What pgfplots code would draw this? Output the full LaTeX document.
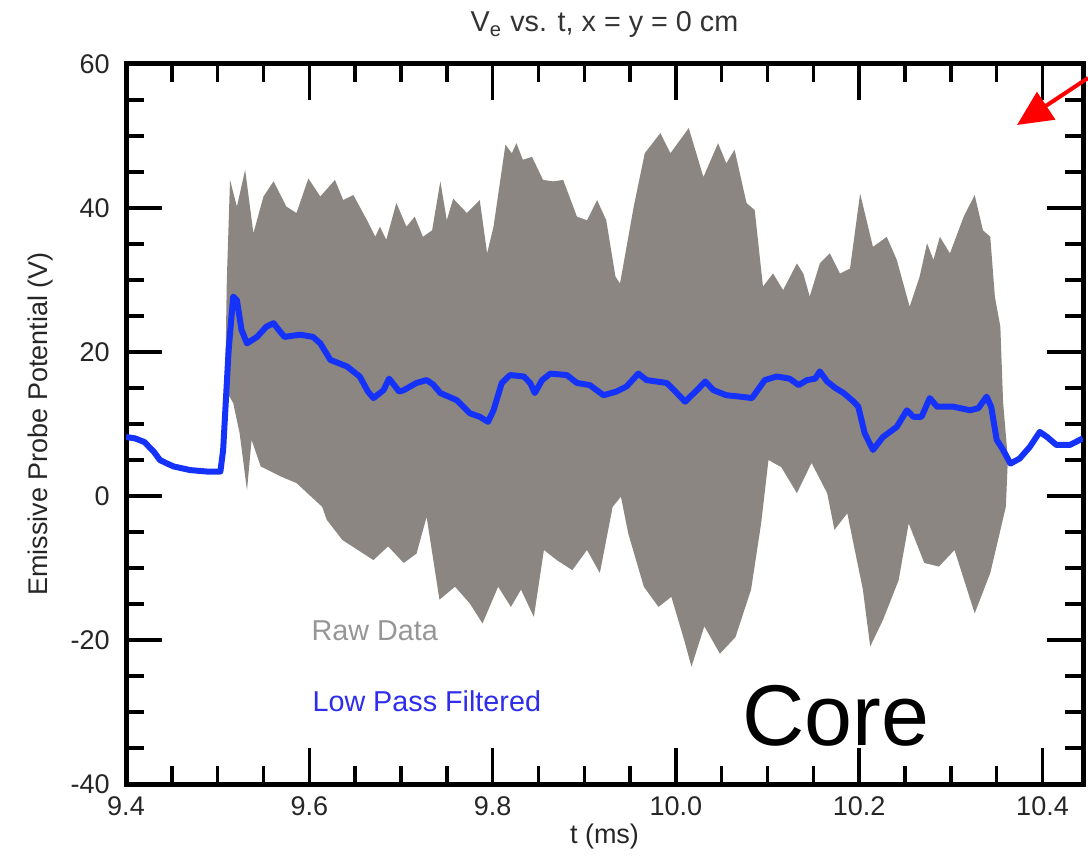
\documentclass[border=0pt]{standalone}
\usepackage{pgfplots}
\pgfplotsset{compat=1.18}
\usepackage{fontspec}
\setmainfont{Liberation Sans}
\usetikzlibrary{arrows.meta}
\definecolor{rawgray}{RGB}{139,134,129}
\definecolor{lpblue}{RGB}{20,50,250}
\definecolor{rawtext}{RGB}{150,150,150}
\definecolor{lptext}{RGB}{45,45,235}
\begin{document}
\begin{tikzpicture}
\begin{axis}[name=ax, scale only axis, width=382.8pt, height=288pt,
  xmin=9.4, xmax=10.4442, ymin=-40, ymax=60,
  xtick={9.4,9.6,9.8,10.0,10.2,10.4}, ytick={-40,-20,0,20,40,60},
  minor x tick num=3, minor y tick num=3,
  tick align=inside, tick pos=both,
  major tick length=14.4pt, minor tick length=7.2pt,
  tick style={black, line width=1.4pt},
  axis line style={line width=2pt},
  /pgf/number format/assume math mode=true,
  tick label style={font=\fontsize{10.8}{12}\selectfont, text=black!85},
  xticklabel style={/pgf/number format/fixed, /pgf/number format/fixed zerofill, /pgf/number format/precision=1, yshift=-1.5pt},
  yticklabel style={xshift=-3pt},
]
% Raw data envelope (upper edge left to right, lower edge right to left)
\addplot[fill=rawgray, draw=none] coordinates {
(9.508,14.0) (9.510,30.0) (9.5135,43.9) (9.521,40.2) (9.530,45.3) (9.539,36.5)
(9.550,41.6) (9.561,43.7) (9.575,40.2) (9.586,39.3) (9.599,44.1) (9.612,41.6)
(9.628,43.9) (9.637,41.1) (9.648,41.8) (9.663,38.3) (9.672,36.0) (9.677,37.4)
(9.684,35.6) (9.695,40.7) (9.706,37.4) (9.715,38.8) (9.724,36.0) (9.734,36.9)
(9.743,43.7) (9.750,38.3) (9.757,41.3) (9.772,39.3) (9.786,41.1) (9.794,33.7)
(9.801,37.4) (9.814,48.8) (9.821,47.6) (9.826,49.0) (9.833,46.7) (9.843,47.1)
(9.855,43.9) (9.866,43.7) (9.877,43.9) (9.892,38.8) (9.903,38.3) (9.914,41.1)
(9.924,38.3) (9.934,30.5) (9.939,29.5) (9.954,40.2) (9.966,47.6) (9.983,50.4)
(9.994,47.6) (10.014,51.1) (10.030,44.3) (10.046,49.0) (10.055,46.2) (10.064,48.1)
(10.077,40.7) (10.086,39.7) (10.095,29.1) (10.106,30.9) (10.117,28.6) (10.132,32.3)
(10.139,30.9) (10.146,27.7) (10.157,32.3) (10.168,33.7) (10.179,30.9) (10.190,31.6)
(10.201,42.0) (10.215,34.6) (10.230,36.0) (10.241,32.8) (10.255,26.3) (10.266,30.5)
(10.274,35.1) (10.281,32.8) (10.288,36.0) (10.299,33.7) (10.314,38.8) (10.326,41.8)
(10.335,36.9) (10.343,36.0) (10.348,27.7) (10.354,23.5) (10.357,13.0) (10.362,5.5)
(10.362,4.5) (10.360,-1.5) (10.343,-10.7) (10.326,-16.3) (10.304,-7.5) (10.287,-9.8)
(10.271,-9.3) (10.254,-3.8) (10.243,-11.7) (10.226,-17.2) (10.212,-20.9) (10.204,-13.0)
(10.187,-2.4) (10.173,-4.7) (10.165,0.4) (10.148,4.6) (10.132,0.4) (10.115,4.0)
(10.101,5.0) (10.093,-3.8) (10.082,-13.0) (10.065,-19.6) (10.048,-21.9) (10.031,-18.1)
(10.017,-23.7) (10.009,-20.0) (9.995,-14.0) (9.981,-15.4) (9.965,-12.6) (9.948,-5.2)
(9.940,-0.1) (9.931,-1.5) (9.917,-10.7) (9.903,-7.5) (9.887,-10.3) (9.870,-8.9)
(9.856,-7.5) (9.845,-16.8) (9.831,-13.0) (9.820,-15.4) (9.806,-12.6) (9.789,-17.7)
(9.775,-14.9) (9.759,-12.6) (9.742,-14.4) (9.728,-2.9) (9.717,-8.0) (9.703,-9.3)
(9.686,-7.0) (9.670,-8.9) (9.653,-7.5) (9.636,-6.1) (9.619,-3.3) (9.614,-1.5)
(9.586,1.8) (9.569,2.7) (9.547,4.1) (9.537,7.8) (9.532,0.8) (9.524,8.7)
(9.517,12.9) (9.509,14.7)
};
% Low pass filtered
\addplot[lpblue, line width=2.4pt, line join=round] coordinates {
(9.400,8.2) (9.410,8.0) (9.420,7.5) (9.430,6.2) (9.437,5.0) (9.445,4.5) (9.452,4.1)
(9.470,3.6) (9.488,3.4) (9.503,3.4) (9.506,6.4) (9.512,20.3) (9.517,27.7) (9.521,27.2)
(9.526,23.1) (9.532,21.2) (9.543,22.1) (9.553,23.5) (9.561,24.0) (9.567,23.0) (9.573,22.1)
(9.590,22.4) (9.604,22.1) (9.612,21.2) (9.623,18.9) (9.641,18.0) (9.655,16.6) (9.664,14.5)
(9.670,13.6) (9.681,14.7) (9.687,16.3) (9.692,15.5) (9.698,14.5) (9.703,14.7) (9.717,15.7)
(9.728,16.1) (9.735,15.5) (9.743,14.3) (9.761,13.3) (9.775,11.5) (9.786,11.0) (9.795,10.3)
(9.801,11.9) (9.810,15.7) (9.819,16.8) (9.834,16.6) (9.841,15.7) (9.846,14.3) (9.854,16.1)
(9.863,17.0) (9.881,16.8) (9.892,15.7) (9.906,15.4) (9.921,14.0) (9.935,14.5) (9.946,15.2)
(9.959,17.0) (9.968,16.1) (9.990,15.7) (10.001,14.3) (10.010,13.1) (10.023,14.7) (10.032,15.9)
(10.041,14.7) (10.055,14.0) (10.070,13.8) (10.083,13.6) (10.097,16.1) (10.110,16.6) (10.124,16.3)
(10.134,15.4) (10.143,16.1) (10.152,16.3) (10.157,17.3) (10.165,15.9) (10.174,15.0) (10.183,14.3)
(10.194,13.1) (10.199,12.4) (10.206,8.7) (10.215,6.4) (10.226,8.2) (10.241,9.6) (10.252,11.9)
(10.259,11.0) (10.268,11.0) (10.277,13.6) (10.285,12.4) (10.303,12.4) (10.321,11.9) (10.330,12.2)
(10.339,13.8) (10.344,12.4) (10.350,7.8) (10.357,6.4) (10.365,4.5) (10.375,5.2) (10.386,6.8)
(10.397,8.9) (10.405,8.2) (10.415,7.1) (10.430,7.1) (10.444,8.0)
};
\node[anchor=base west, inner sep=0pt, text=rawtext, font=\fontsize{11.5}{13}\selectfont] at (axis cs:9.602,-20.0) {Raw Data};
\node[anchor=base west, inner sep=0pt, text=lptext, font=\fontsize{11.5}{13}\selectfont] at (axis cs:9.603,-29.96) {Low Pass Filtered};
\node[anchor=base west, inner sep=0pt, text=black, font=\fontsize{34.5}{40}\selectfont] at (axis cs:10.072,-34.7) {Core};
\end{axis}
\node[anchor=base, font=\fontsize{11.5}{13}\selectfont, text=black!80] at ([yshift=12.8pt]ax.north) {V\textsubscript{e} vs. t, x = y = 0 cm};
\node[anchor=base, font=\fontsize{10.8}{12}\selectfont, text=black!85] at ([yshift=-23.6pt]ax.south) {t (ms)};
\node[anchor=base, rotate=90, font=\fontsize{10.8}{12}\selectfont, text=black!85] at ([xshift=-31.6pt]ax.west) {Emissive Probe Potential (V)};
\draw[red, line width=1.6pt, -{Triangle[length=14pt,width=13pt]}] ([xshift=2pt,yshift=-5.6pt]ax.north east) -- ([xshift=-26.4pt,yshift=-24.4pt]ax.north east);
\pgfresetboundingbox
\path[use as bounding box] ([xshift=-50.4pt,yshift=-28.4pt]ax.south west) rectangle ([xshift=2pt,yshift=25.6pt]ax.north east);
\end{tikzpicture}
\end{document}
